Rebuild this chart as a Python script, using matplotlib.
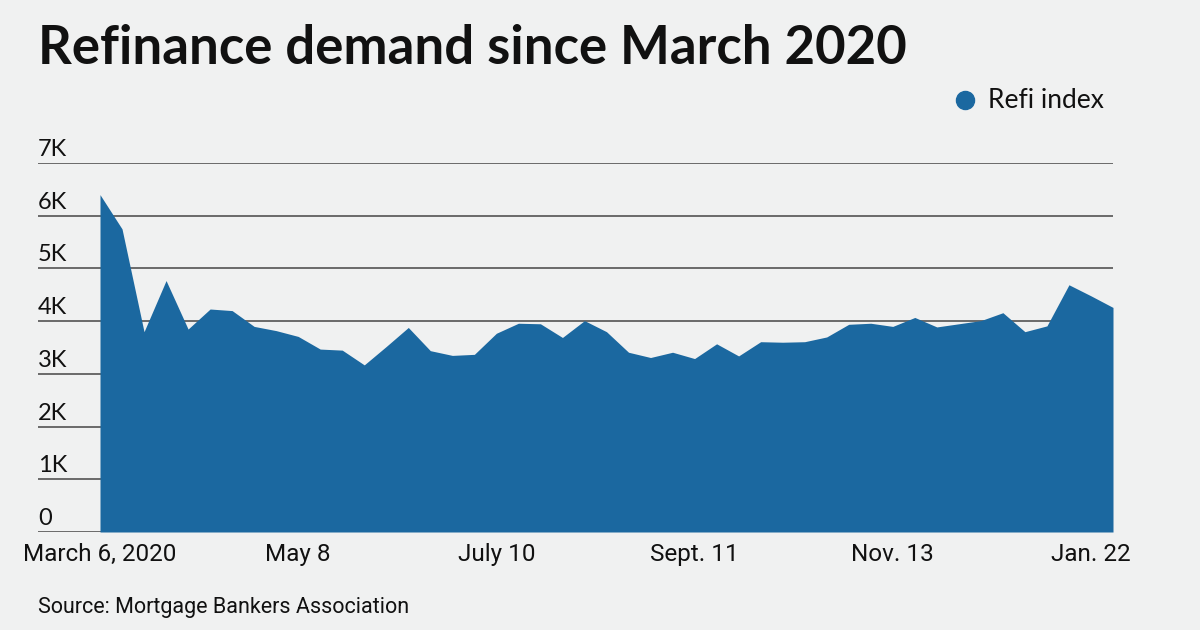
import matplotlib
matplotlib.use('Agg')
import matplotlib.pyplot as plt
from matplotlib.lines import Line2D
import matplotlib.transforms as mtransforms

# Weekly MBA refinance index, March 6, 2020 -> Jan. 22, 2021
refi_index = [
    6400, 5750, 3800, 4770, 3850, 4230, 4200, 3900, 3820, 3710,
    3470, 3450, 3170, 3520, 3880, 3440, 3350, 3370, 3770, 3960,
    3950, 3690, 4010, 3800, 3410, 3310, 3410, 3290, 3570, 3340,
    3610, 3600, 3610, 3700, 3940, 3960, 3900, 4070, 3890, 3950,
    4010, 4160, 3800, 3910, 4690, 4480, 4260,
]
tick_pos = [0, 9, 18, 27, 36, 45]
tick_labels = ['March 6, 2020', 'May 8', 'July 10', 'Sept. 11', 'Nov. 13', 'Jan. 22']
y_ticks = [0, 1000, 2000, 3000, 4000, 5000, 6000, 7000]
y_labels = ['0', '1K', '2K', '3K', '4K', '5K', '6K', '7K']

BG = '#f0f1f1'
BLUE = '#1b68a0'
GRID = '#5f5f5f'
TEXT = '#111111'

W, H = 1200, 630
fig = plt.figure(figsize=(W / 100, H / 100), dpi=100, facecolor=BG)

# axes placed in pixel terms: x from 38 to 1113, y from 163 (7K) to 532 (0)
left, right, top, bottom = 38, 1113, 163, 532
ax = fig.add_axes([left / W, 1 - bottom / H, (right - left) / W, (bottom - top) / H])
ax.set_facecolor(BG)

x = list(range(len(refi_index)))
step = (1113 - 100) / (len(refi_index) - 1)
ax.set_xlim(-(100 - left) / step, len(refi_index) - 1)
ax.set_ylim(0, 7000)

for v in y_ticks:
    ax.axhline(v, color=GRID, linewidth=1.3, zorder=1)
ax.fill_between(x, refi_index, 0, color=BLUE, linewidth=0, zorder=2)

for s in ax.spines.values():
    s.set_visible(False)

ax.set_yticks([])
ax.set_xticks(tick_pos)
ax.set_xticklabels(tick_labels)
ax.tick_params(axis='x', length=0, pad=8, labelsize=17.5, labelcolor=TEXT)
for lab in ax.get_xticklabels():
    lab.set_family(['Roboto', 'DejaVu Sans'])

# y labels sit just above their gridline at the left edge
ytrans = ax.get_yaxis_transform() + mtransforms.ScaledTranslation(0, 3 / 100, fig.dpi_scale_trans)
for v, lab in zip(y_ticks, y_labels):
    ax.text(0, v, lab, transform=ytrans, ha='left', va='bottom',
            fontsize=17, color=TEXT, family=['Lato', 'DejaVu Sans'])

# title
fig.text(38 / W, 1 - 64 / H, 'Refinance demand since March 2020', ha='left', va='baseline',
         fontsize=38, fontweight='bold', color=TEXT, family=['Lato', 'DejaVu Sans'])

# legend
fig.add_artist(Line2D([965 / W], [1 - 100 / H], marker='o', markersize=13,
                      color=BLUE, linestyle='none', transform=fig.transFigure))
fig.text(988 / W, 1 - 100 / H, 'Refi index', ha='left', va='center',
         fontsize=19, color=TEXT, family=['Lato', 'DejaVu Sans'])

# source
fig.text(38 / W, 1 - 608 / H, 'Source: Mortgage Bankers Association', ha='left', va='center',
         fontsize=15.5, color=TEXT, family=['Roboto', 'DejaVu Sans'])

fig.savefig('out.png', dpi=100, facecolor=BG)
